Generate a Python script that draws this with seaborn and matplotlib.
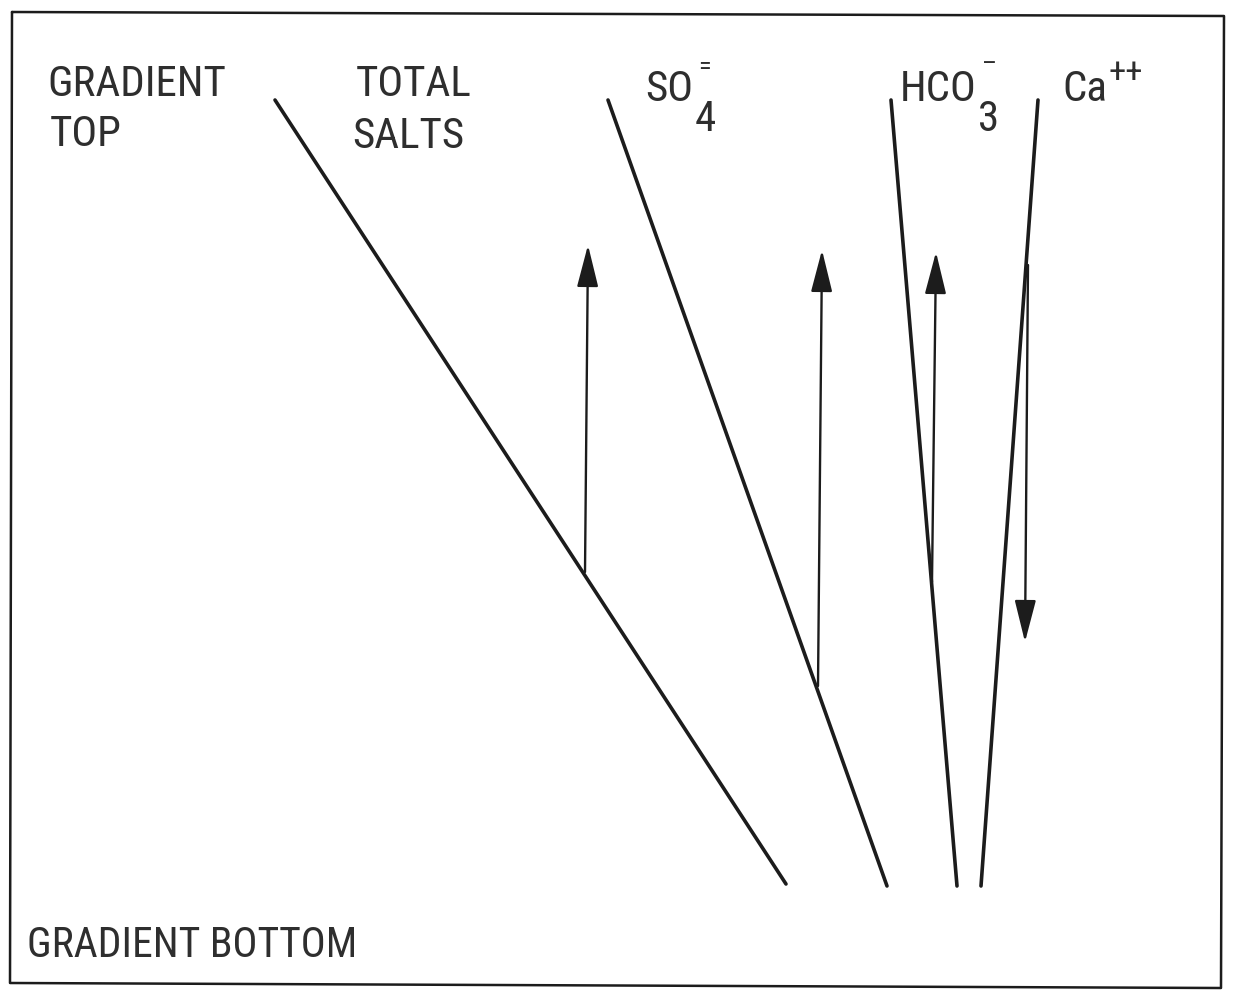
import seaborn as sns
import matplotlib.pyplot as plt
import pandas as pd

# profiles: x position at gradient top and at gradient bottom (pixel-like units)
series = ["TOTAL SALTS", "SO4", "HCO3", "Ca"]
x_top = [275, 608, 891, 1038]
y_top = [100, 100, 100, 100]
x_bottom = [786, 887, 957, 981]
y_bottom = [884, 886, 886, 886]

# arrows: start -> tip
arrow_x0 = [585, 818, 932, 1028]
arrow_y0 = [572, 686, 582, 265]
arrow_x1 = [588, 822, 936, 1025]
arrow_y1 = [245, 250, 252, 642]

df = pd.DataFrame({
    "series": series * 2,
    "x": x_top + x_bottom,
    "y": y_top + y_bottom,
})

sns.set_style("white")
plt.rcParams["font.family"] = ["Roboto Condensed", "DejaVu Sans"]
plt.rcParams["font.stretch"] = "condensed"

fig = plt.figure(figsize=(12.33, 9.9), dpi=100)
ax = fig.add_axes([0, 0, 1, 1])
ax.set_xlim(0, 1233)
ax.set_ylim(990, 0)
ax.axis("off")

sns.lineplot(data=df, x="x", y="y", units="series", estimator=None,
             color="#1c1c1c", linewidth=2.6, sort=False, ax=ax, legend=False)

for xa, ya, xb, yb in zip(arrow_x0, arrow_y0, arrow_x1, arrow_y1):
    ax.annotate("", xy=(xb, yb), xytext=(xa, ya),
                arrowprops=dict(arrowstyle="-|>,head_length=1.3,head_width=0.33",
                                mutation_scale=20, color="#1c1c1c", lw=1.7,
                                shrinkA=0, shrinkB=0))

# frame
ax.plot([12, 1224, 1221, 10, 12], [12, 16, 988, 983, 12], color="#1c1c1c", lw=1.8)

col = "#2e2e2e"
tk = dict(color=col, fontsize=31, va="baseline", ha="left", fontstretch="condensed")
ax.text(47, 96, "GRADIENT", **tk)
ax.text(50, 146, "TOP", **tk)
ax.text(356, 96, "TOTAL", **tk)
ax.text(352, 148, "SALTS", **tk)
ax.text(27, 957, "GRADIENT BOTTOM", fontsize=30, color=col, va="baseline",
        ha="left", fontstretch="condensed")


def ion(x, base, sub, sup, sup_size, sup_dx, sup_up):
    t = ax.text(x, 101, base, **tk)
    if sub:
        ax.annotate(sub, xy=(1, 0), xycoords=t, xytext=(1, -15),
                    textcoords="offset points", **tk)
    ax.annotate(sup, xy=(1, 0), xycoords=t, xytext=(sup_dx, sup_up),
                textcoords="offset points", color=col, fontsize=sup_size,
                va="baseline", ha="left", fontstretch="condensed")


ion(645, "SO", "4", "=", 19, 4, 26)
ion(900, "HCO", "3", "\u2013", 19, 4, 28)
ion(1062, "Ca", None, "++", 25, 1, 20)

fig.savefig("out.png", dpi=100, facecolor="white")
